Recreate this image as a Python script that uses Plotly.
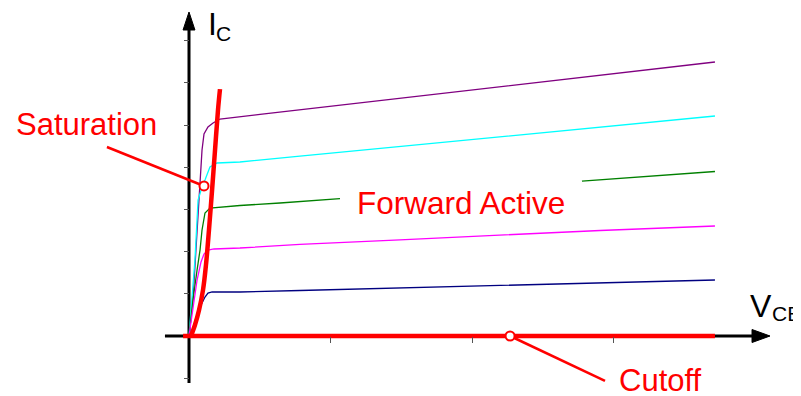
import plotly.graph_objects as go

# ---------------- data (V_CE in V, I_C in mA) ----------------
purple_v = [0, 0.028, 0.049, 0.071, 0.085, 0.092, 0.106, 0.134, 0.170, 0.219, 0.502, 0.784, 1.138, 1.491, 1.845, 2.198, 2.481, 2.763, 3.046, 3.329, 3.717]
purple_i = [0, 0.853, 2.038, 3.223, 3.934, 4.408, 4.787, 4.953, 5.047, 5.142, 5.251, 5.360, 5.490, 5.633, 5.770, 5.905, 6.020, 6.126, 6.240, 6.344, 6.493]

cyan_v = [0, 0.021, 0.042, 0.064, 0.092, 0.113, 0.148, 0.198, 0.360, 0.784, 1.138, 1.491, 1.845, 2.198, 2.622, 2.905, 3.258, 3.717]
cyan_i = [0, 0.853, 1.801, 3.223, 3.531, 3.697, 4.005, 4.100, 4.123, 4.261, 4.374, 4.491, 4.604, 4.720, 4.858, 4.948, 5.064, 5.213]

green_v = [0, 0.028, 0.057, 0.078, 0.092, 0.113, 0.148, 0.219, 0.360, 0.643, 1.067, None, 2.777, 3.046, 3.329, 3.717]
green_i = [0, 0.853, 1.564, 2.038, 2.512, 2.915, 3.033, 3.057, 3.092, 3.152, 3.256, None, 3.671, 3.735, 3.803, 3.898]

magenta_v = [0, 0.028, 0.057, 0.085, 0.106, 0.134, 0.177, 0.360, 0.784, 1.491, 2.198, 2.905, 3.717]
magenta_i = [0, 0.616, 1.327, 1.754, 1.943, 2.038, 2.062, 2.085, 2.171, 2.280, 2.389, 2.500, 2.607]

navy_v = [0, 0.021, 0.049, 0.078, 0.113, 0.134, 0.163, 0.360, 0.784, 1.491, 2.198, 2.905, 3.717]
navy_i = [0, 0.095, 0.427, 0.687, 0.924, 1.019, 1.043, 1.043, 1.078, 1.137, 1.197, 1.258, 1.327]

sat_v = [0.014, 0.042, 0.071, 0.099, 0.120, 0.141, 0.163, 0.184, 0.205, 0.219]
sat_i = [0, 0.26, 0.616, 1.09, 1.685, 2.51, 3.46, 4.41, 5.36, 5.85]

cutoff_v = [-0.042, 3.717]
cutoff_i = [0, 0]

sat_label_v = [0.106, -0.580]
sat_label_i = [3.555, 4.479]
cut_label_v = [2.269, 2.940]
cut_label_i = [0, -1.066]

ytick_vals = [-1, 1, 2, 3, 4, 5, 6, 7]
xtick_vals = [1, 2, 3]

# ---------------- layout constants ----------------
# page body has an 8px margin, so the figure is 793x388 and starts at (8, 8)
W, H = 793, 388
X_RANGE = [-1.2792, 4.3251]
Y_RANGE = [-1.4218, 7.7725]
RED = "#ff0000"
FONT = "Liberation Sans, Arial, sans-serif"

fig = go.Figure()

curves = [
    (purple_v, purple_i, "#800080"),
    (cyan_v, cyan_i, "#00ffff"),
    (green_v, green_i, "#008000"),
    (magenta_v, magenta_i, "#ff00ff"),
    (navy_v, navy_i, "#000080"),
]
for xv, yv, col in curves:
    fig.add_trace(go.Scatter(x=xv, y=yv, mode="lines", line=dict(color=col, width=1.3),
                             connectgaps=False, hoverinfo="skip", showlegend=False))

# cutoff and saturation boundaries
fig.add_trace(go.Scatter(x=cutoff_v, y=cutoff_i, mode="lines", line=dict(color=RED, width=4.5),
                         showlegend=False, hoverinfo="skip"))
fig.add_trace(go.Scatter(x=sat_v, y=sat_i, mode="lines", line=dict(color=RED, width=4.5, shape="spline"),
                         showlegend=False, hoverinfo="skip"))

# leader lines
fig.add_trace(go.Scatter(x=sat_label_v, y=sat_label_i, mode="lines", line=dict(color=RED, width=2.5),
                         showlegend=False, hoverinfo="skip"))
fig.add_trace(go.Scatter(x=cut_label_v, y=cut_label_i, mode="lines", line=dict(color=RED, width=2.5),
                         showlegend=False, hoverinfo="skip"))
# circles
fig.add_trace(go.Scatter(x=[sat_label_v[0], cut_label_v[0]], y=[sat_label_i[0], cut_label_i[0]], mode="markers",
                         marker=dict(symbol="circle", size=9, color="white", line=dict(color=RED, width=2)),
                         showlegend=False, hoverinfo="skip"))

# axes lines and arrow heads
shapes = [
    dict(type="line", x0=0, x1=0, y0=-1.114, y1=7.30, line=dict(color="black", width=3), layer="below"),
    dict(type="line", x0=-0.170, x1=4.0, y0=0, y1=0, line=dict(color="black", width=3), layer="below"),
    dict(type="path", path="M -0.042,7.251 L 0,7.678 L 0.042,7.251 Z", fillcolor="black",
         line=dict(color="black", width=1), layer="below"),
    dict(type="path", path="M 3.979,-0.154 L 4.106,0 L 3.979,0.154 Z", fillcolor="black",
         line=dict(color="black", width=1), layer="below"),
]

annotations = [
    dict(x=-0.724, y=5.012, text="Saturation", showarrow=False, font=dict(family=FONT, size=31, color=RED),
         xanchor="center", yanchor="middle"),
    dict(x=1.919, y=3.14, text="Forward Active", showarrow=False, font=dict(family=FONT, size=31.5, color=RED),
         xanchor="center", yanchor="middle"),
    dict(x=3.329, y=-1.043, text="Cutoff", showarrow=False, font=dict(family=FONT, size=31, color=RED),
         xanchor="center", yanchor="middle"),
    # axis labels: main letter + smaller subscript
    dict(x=0.127, y=7.382, text="I", showarrow=False, font=dict(family=FONT, size=32, color="black"),
         xanchor="left", yanchor="middle", borderpad=0),
    dict(x=0.184, y=7.18, text="C", showarrow=False, font=dict(family=FONT, size=21, color="black"),
         xanchor="left", yanchor="middle", borderpad=0),
    dict(x=3.958, y=0.711, text="V", showarrow=False, font=dict(family=FONT, size=32, color="black"),
         xanchor="left", yanchor="middle", borderpad=0),
    dict(x=4.113, y=0.545, text="CE", showarrow=False, font=dict(family=FONT, size=21, color="black"),
         xanchor="left", yanchor="middle", borderpad=0),
]

fig.update_layout(
    width=W, height=H, autosize=False,
    margin=dict(l=0, r=0, t=0, b=0),
    paper_bgcolor="white", plot_bgcolor="white",
    shapes=shapes, annotations=annotations,
    xaxis=dict(range=X_RANGE, anchor="free", position=60 / H, showgrid=False, zeroline=False,
               showline=False, ticks="outside", ticklen=6, tickwidth=1, tickcolor="#555",
               tickvals=xtick_vals, showticklabels=False, fixedrange=True),
    yaxis=dict(range=Y_RANGE, anchor="free", position=181 / W, showgrid=False, zeroline=False,
               showline=False, ticks="outside", ticklen=5, tickwidth=1, tickcolor="#555",
               tickvals=ytick_vals, showticklabels=False, fixedrange=True),
    showlegend=False,
)

fig.write_html("out.html", config={"displayModeBar": False})
